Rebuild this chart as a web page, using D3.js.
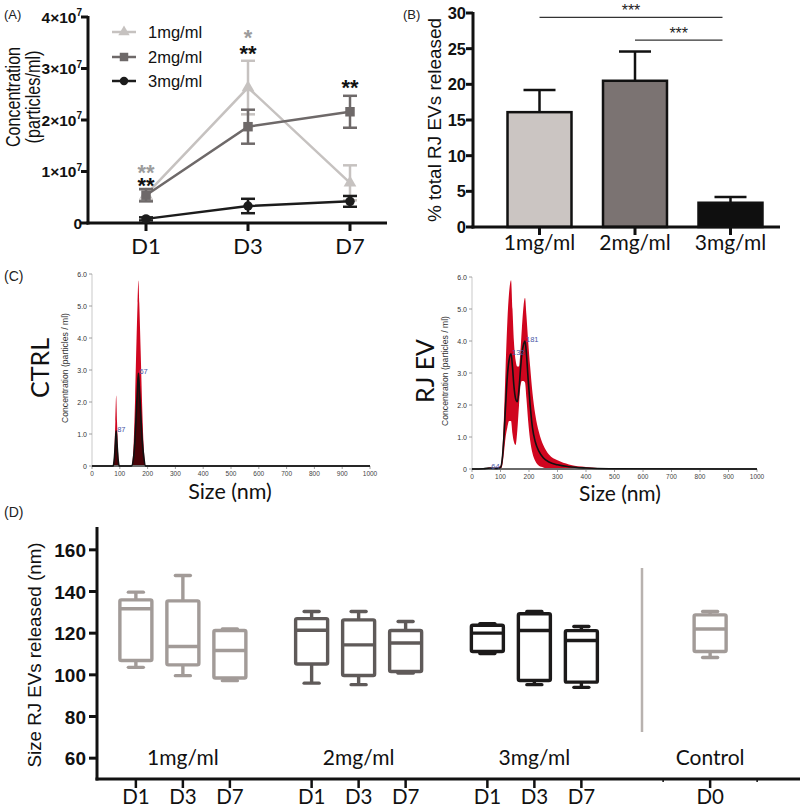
<!DOCTYPE html>
<html><head><meta charset="utf-8">
<script src="https://cdn.jsdelivr.net/npm/d3@7"></script>
<style>body{margin:0;background:#fff}svg{display:block}</style>
</head><body>
<svg id="fig" width="800" height="809"></svg>
<script>
// ---------- DATA ----------
// Panel A
const timepoints = ["D1", "D3", "D7"];
const concSeries = ["1mg/ml", "2mg/ml", "3mg/ml"];
const conc1mg = [5.5e6, 2.63e7, 7.8e6];
const conc1mgErr = [1.0e6, 5.2e6, 3.4e6];
const conc2mg = [5.4e6, 1.87e7, 2.16e7];
const conc2mgErr = [1.2e6, 3.3e6, 3.1e6];
const conc3mg = [0.8e6, 3.3e6, 4.2e6];
const conc3mgErr = [0.3e6, 1.4e6, 1.05e6];
const concTicks = [0, 1e7, 2e7, 3e7, 4e7];
// significance marks: one text per mark, v = baseline in data units
const concStars = [
  {t: "D1", text: "**", c: "grey", v: 0.83e7},
  {t: "D1", text: "**", c: "black", v: 0.575e7},
  {t: "D3", text: "*", c: "grey", v: 3.455e7},
  {t: "D3", text: "**", c: "black", v: 3.145e7},
  {t: "D7", text: "**", c: "black", v: 2.49e7}
];
// Panel B
const doses = ["1mg/ml", "2mg/ml", "3mg/ml"];
const pctReleased = [16.1, 20.5, 3.4];
const pctErr = [3.1, 4.1, 0.8];
const pctTicks = [0, 5, 10, 15, 20, 25, 30];
const pctSig = [
  {from: "1mg/ml", to: "3mg/ml", v: 29.4, text: "***"},
  {from: "2mg/ml", to: "3mg/ml", v: 26.2, text: "***"}
];
// Panel C (NTA size distributions)
const sizeTicks = [0, 100, 200, 300, 400, 500, 600, 700, 800, 900, 1000];
const ntaTicks = [0, 1, 2, 3, 4, 5, 6];
const ctrlSize = [0, 76, 80, 84, 87, 90, 94, 98, 142, 150, 155, 160, 164, 167, 170, 175, 180, 186, 193, 1000];
const ctrlMean = [0, 0, 0.2, 0.7, 1.1, 0.7, 0.2, 0, 0, 0.3, 0.9, 1.8, 2.5, 2.9, 2.5, 1.7, 0.9, 0.3, 0, 0];
const ctrlHigh = [0, 0, 0.4, 1.4, 2.2, 1.4, 0.4, 0, 0, 0.7, 2.1, 3.9, 5.1, 5.8, 5.1, 3.6, 2.0, 0.6, 0, 0];
const ctrlPeaks = [{s: 87, v: 1.1, label: "87"}, {s: 167, v: 2.9, label: "67"}];
const rjSize = [0, 40, 64, 85, 100, 106, 112, 118, 124, 130, 137, 142, 147, 153, 159, 165, 170, 175, 181, 186, 191, 197, 204, 212, 222, 235, 250, 270, 300, 340, 400, 480, 1000];
const rjMean = [0, 0.01, 0.03, 0.02, 0.05, 0.3, 1.0, 2.0, 2.9, 3.4, 3.6, 3.2, 2.6, 2.2, 2.1, 2.5, 3.1, 3.6, 3.9, 4.0, 3.6, 2.8, 2.0, 1.3, 0.85, 0.55, 0.35, 0.22, 0.13, 0.07, 0.03, 0.01, 0];
const rjLow = [0, 0, 0.01, 0, 0, 0.1, 0.5, 1.0, 1.3, 1.5, 1.5, 1.1, 0.85, 0.75, 1.2, 2.0, 2.6, 2.75, 2.75, 2.7, 2.2, 1.5, 0.9, 0.5, 0.25, 0.1, 0.05, 0, 0, 0, 0, 0, 0];
const rjHigh = [0, 0.02, 0.05, 0.04, 0.1, 0.5, 1.6, 3.2, 4.6, 5.5, 5.9, 5.0, 4.0, 3.4, 3.2, 3.2, 3.7, 4.4, 5.1, 5.35, 4.8, 4.0, 3.2, 2.4, 1.7, 1.15, 0.75, 0.45, 0.27, 0.14, 0.06, 0.02, 0];
const rjPeaks = [{s: 64, v: 0.03, label: "64"}, {s: 137, v: 3.6, label: "132"}, {s: 186, v: 4.0, label: "181"}];
// Panel D (box plots: min, q1, median, q3, max)
const boxGroups = ["1mg/ml", "2mg/ml", "3mg/ml", "Control"];
const boxDays = [["D1", "D3", "D7"], ["D1", "D3", "D7"], ["D1", "D3", "D7"], ["", "D0", ""]];
const box1mg = [[103.6, 106.9, 131.7, 136.0, 139.7], [99.6, 104.8, 113.6, 135.5, 147.7], [97.2, 98.5, 111.7, 121.3, 122.0]];
const box2mg = [[96.0, 105.2, 121.4, 127.0, 130.4], [95.3, 99.7, 114.4, 126.4, 130.4], [100.8, 101.6, 115.3, 121.3, 125.6]];
const box3mg = [[110.2, 111.2, 120.0, 123.8, 124.6], [95.3, 97.3, 121.3, 129.3, 130.4], [94.0, 96.5, 116.5, 121.2, 123.2]];
const boxCtrl = [[108.3, 111.2, 122.0, 128.8, 130.4]];
const sizeBoxTicks = [60, 80, 100, 120, 140, 160];

// ---------- DRAW ----------
const svg = d3.select("#fig");
const ARIAL = "'Liberation Sans', Arial, sans-serif";
const AVENIR = "Lato, 'Open Sans', sans-serif";

function panelLabel(t, x, y, fs) {
  svg.append("text").attr("x", x).attr("y", y).attr("font-family", ARIAL)
    .attr("font-size", fs).attr("fill", "#222").text(t);
}
function rotLabel(t, x, y, fs, len, fam, weight) {
  svg.append("text").attr("transform", `translate(${x},${y}) rotate(-90)`)
    .attr("text-anchor", "middle").attr("font-family", fam || ARIAL)
    .attr("font-size", fs).attr("font-weight", weight || "normal")
    .attr("textLength", len).attr("lengthAdjust", "spacingAndGlyphs")
    .attr("fill", "#111").text(t);
}

// ===== Panel A =====
{
  const colors = ["#c6c2c0", "#6e6969", "#1c1c1c"];
  const vals = [conc1mg, conc2mg, conc3mg];
  const errs = [conc1mgErr, conc2mgErr, conc3mgErr];
  const symbols = [d3.symbolTriangle, d3.symbolSquare, d3.symbolCircle];
  const symSizes = [70, 90, 70];
  const x = d3.scalePoint().domain(timepoints).range([146, 350]);
  const y = d3.scaleLinear().domain([0, 4e7]).range([223, 17]);
  const g = svg.append("g");
  // axes
  g.append("line").attr("x1", 88).attr("x2", 88).attr("y1", 16).attr("y2", 224.5).attr("stroke", "#111").attr("stroke-width", 3);
  g.append("line").attr("x1", 86.5).attr("x2", 387).attr("y1", 223).attr("y2", 223).attr("stroke", "#111").attr("stroke-width", 3);
  concTicks.forEach(t => {
    g.append("line").attr("x1", 81).attr("x2", 88).attr("y1", y(t)).attr("y2", y(t)).attr("stroke", "#111").attr("stroke-width", 3);
    const tx = g.append("text").attr("x", 82).attr("y", y(t) + 5.5).attr("text-anchor", "end")
      .attr("font-family", ARIAL).attr("font-weight", "bold").attr("font-size", 15.5).attr("fill", "#111");
    if (t === 0) tx.text("0");
    else {
      tx.append("tspan").text((t / 1e7) + "×10");
      tx.append("tspan").attr("font-size", 10).attr("dy", -6.5).text("7");
    }
  });
  timepoints.forEach(t => {
    g.append("line").attr("x1", x(t)).attr("x2", x(t)).attr("y1", 223).attr("y2", 231).attr("stroke", "#111").attr("stroke-width", 3);
    g.append("text").attr("x", x(t)).attr("y", 254).attr("text-anchor", "middle").attr("font-family", AVENIR)
      .attr("font-size", 22).attr("fill", "#111").text(t);
  });
  rotLabel("Concentration", 20, 97, 21, 100);
  rotLabel("(particles/ml)", 40, 97, 20, 93);
  // series
  vals.forEach((vs, si) => {
    const line = d3.line().x((d, i) => x(timepoints[i])).y(d => y(d));
    g.append("path").attr("d", line(vs)).attr("fill", "none").attr("stroke", colors[si]).attr("stroke-width", 2.5);
    vs.forEach((v, i) => {
      const cx = x(timepoints[i]), e = errs[si][i];
      g.append("line").attr("x1", cx).attr("x2", cx).attr("y1", y(v + e)).attr("y2", y(v - e)).attr("stroke", colors[si]).attr("stroke-width", 2.5);
      [v + e, v - e].forEach(b => g.append("line").attr("x1", cx - 7).attr("x2", cx + 7).attr("y1", y(b)).attr("y2", y(b)).attr("stroke", colors[si]).attr("stroke-width", 2.5));
    });
    vs.forEach((v, i) => {
      g.append("path").attr("d", d3.symbol(symbols[si], symSizes[si])())
        .attr("transform", `translate(${x(timepoints[i])},${y(v)})`).attr("fill", colors[si]);
    });
  });
  // legend
  concSeries.forEach((s, si) => {
    const ly = [32, 57, 81][si];
    g.append("line").attr("x1", 112).attr("x2", 136).attr("y1", ly).attr("y2", ly).attr("stroke", colors[si]).attr("stroke-width", 2.5);
    g.append("path").attr("d", d3.symbol(symbols[si], symSizes[si] * 0.8)()).attr("transform", `translate(124,${ly})`).attr("fill", colors[si]);
    g.append("text").attr("x", 148).attr("y", ly + 6).attr("font-family", ARIAL).attr("font-size", 16.5).attr("fill", "#111").text(s);
  });
  // significance stars
  concStars.forEach(s => {
    g.append("text").attr("x", x(s.t)).attr("y", y(s.v)).attr("text-anchor", "middle")
      .attr("font-family", ARIAL).attr("font-weight", "bold").attr("font-size", 11.5)
      .attr("transform", `translate(${x(s.t)},${y(s.v)}) scale(1.9) translate(${-x(s.t)},${-y(s.v)})`)
      .attr("fill", s.c === "grey" ? "#9c9c9c" : "#111").text(s.text);
  });
  panelLabel("(A)", 4, 19, 13);
}

// ===== Panel B =====
{
  const colors = ["#cbc5c2", "#7b7372", "#0f0f0f"];
  const x = d3.scaleBand().domain(doses).range([476, 794]).padding(0.33);
  const y = d3.scaleLinear().domain([0, 30]).range([227, 13]);
  const g = svg.append("g");
  doses.forEach((d, i) => {
    const cx = x(d) + x.bandwidth() / 2;
    const top = y(pctReleased[i] + pctErr[i]);
    g.append("line").attr("x1", cx).attr("x2", cx).attr("y1", top).attr("y2", y(pctReleased[i])).attr("stroke", "#111").attr("stroke-width", 2.5);
    g.append("line").attr("x1", cx - 16).attr("x2", cx + 16).attr("y1", top).attr("y2", top).attr("stroke", "#111").attr("stroke-width", 2.5);
    g.append("rect").attr("x", x(d)).attr("y", y(pctReleased[i])).attr("width", x.bandwidth())
      .attr("height", y(0) - y(pctReleased[i])).attr("fill", colors[i]).attr("stroke", "#111").attr("stroke-width", 2.5);
  });
  g.append("line").attr("x1", 473).attr("x2", 473).attr("y1", 12).attr("y2", 228.5).attr("stroke", "#111").attr("stroke-width", 3);
  g.append("line").attr("x1", 471.5).attr("x2", 780).attr("y1", 227).attr("y2", 227).attr("stroke", "#111").attr("stroke-width", 3);
  pctTicks.forEach(t => {
    g.append("line").attr("x1", 466).attr("x2", 473).attr("y1", y(t)).attr("y2", y(t)).attr("stroke", "#111").attr("stroke-width", 3);
    g.append("text").attr("x", 466).attr("y", y(t) + 6).attr("text-anchor", "end").attr("font-family", ARIAL)
      .attr("font-weight", "bold").attr("font-size", 16.5).attr("fill", "#111").text(t);
  });
  doses.forEach(d => {
    const cx = x(d) + x.bandwidth() / 2;
    g.append("line").attr("x1", cx).attr("x2", cx).attr("y1", 227).attr("y2", 235).attr("stroke", "#111").attr("stroke-width", 3);
    g.append("text").attr("x", cx).attr("y", 250).attr("text-anchor", "middle").attr("font-family", AVENIR)
      .attr("font-size", 21).attr("fill", "#111").text(d);
  });
  rotLabel("% total RJ EVs released", 441, 120, 19, 204);
  pctSig.forEach(s => {
    const x1 = x(s.from) + x.bandwidth() / 2, x2 = x(s.to) - 8 + x.bandwidth() / 2;
    g.append("line").attr("x1", x1).attr("x2", x2).attr("y1", y(s.v)).attr("y2", y(s.v)).attr("stroke", "#333").attr("stroke-width", 1.3);
    g.append("text").attr("x", (x1 + x2) / 2).attr("y", y(s.v) - 1.5).attr("text-anchor", "middle")
      .attr("font-family", ARIAL).attr("font-size", 16).attr("fill", "#222").text(s.text);
  });
  panelLabel("(B)", 403, 19, 13);
}

// ===== Panel C =====
function ntaPanel(x0, x1, yBase, yTop, sizes, mean, low, high, peaks, darkFill, title, titleX, sizeLabX, sizeLabY, sizeLabFs) {
  const x = d3.scaleLinear().domain([0, 1000]).range([x0, x1]);
  const y = d3.scaleLinear().domain([0, 6]).range([yBase, yTop]);
  const g = svg.append("g");
  const pts = sizes.map((s, i) => ({s, m: mean[i], lo: low ? low[i] : 0, hi: high[i]}));
  g.append("line").attr("x1", x0).attr("x2", x0).attr("y1", yTop).attr("y2", yBase).attr("stroke", "#bbb").attr("stroke-width", 0.8);
  ntaTicks.forEach(t => {
    g.append("line").attr("x1", x0 - 3).attr("x2", x0).attr("y1", y(t)).attr("y2", y(t)).attr("stroke", "#888").attr("stroke-width", 0.8);
    g.append("text").attr("x", x0 - 5).attr("y", y(t) + 2.5).attr("text-anchor", "end").attr("font-family", ARIAL)
      .attr("font-size", 7).attr("fill", "#333").text(t === 0 ? "0" : t.toFixed(1));
  });
  sizeTicks.forEach(t => {
    g.append("line").attr("x1", x(t)).attr("x2", x(t)).attr("y1", yBase).attr("y2", yBase + 3).attr("stroke", "#888").attr("stroke-width", 0.8);
    g.append("text").attr("x", x(t)).attr("y", yBase + 10).attr("text-anchor", "middle").attr("font-family", ARIAL)
      .attr("font-size", 6.5).attr("fill", "#444").text(t);
  });
  const band = d3.area().x(d => x(d.s)).y0(d => y(d.lo)).y1(d => y(d.hi)).curve(d3.curveMonotoneX);
  g.append("path").attr("d", band(pts)).attr("fill", "#d0061f");
  if (darkFill) {
    const under = d3.area().x(d => x(d.s)).y0(y(0)).y1(d => y(d.m)).curve(d3.curveMonotoneX);
    g.append("path").attr("d", under(pts)).attr("fill", "#3a0306").attr("opacity", 0.9);
  }
  g.append("line").attr("x1", x0).attr("x2", x1).attr("y1", yBase).attr("y2", yBase).attr("stroke", "#6a6a6a").attr("stroke-width", 2);
  const ln = d3.line().x(d => x(d.s)).y(d => y(d.m)).curve(d3.curveMonotoneX);
  g.append("path").attr("d", ln(pts)).attr("fill", "none").attr("stroke", "#111").attr("stroke-width", 1.6);
  peaks.forEach(p => {
    g.append("text").attr("x", x(p.s) + 1).attr("y", y(p.v) + 1).attr("font-family", ARIAL).attr("font-size", 7.5)
      .attr("fill", "#4a58a6").text(p.label);
  });
  svg.append("text").attr("transform", `translate(${x0 - 24},${(yTop + yBase) / 2 - 2}) rotate(-90)`)
    .attr("text-anchor", "middle").attr("font-family", ARIAL).attr("font-size", 8.6).attr("fill", "#333")
    .text("Concentration (particles / ml)");
  svg.append("text").attr("x", sizeLabX).attr("y", sizeLabY).attr("text-anchor", "middle")
    .attr("font-family", AVENIR).attr("font-size", sizeLabFs).attr("fill", "#111").text("Size (nm)");
  svg.append("text").attr("transform", `translate(${titleX},${(yTop + yBase) / 2 - 2}) rotate(-90)`)
    .attr("text-anchor", "middle").attr("font-family", AVENIR).attr("font-size", 25).attr("fill", "#111").text(title);
}
ntaPanel(92, 370, 466, 274, ctrlSize, ctrlMean, null, ctrlHigh, ctrlPeaks, true, "CTRL", 49, 230, 499, 21.5);
ntaPanel(472, 757, 469, 277, rjSize, rjMean, rjLow, rjHigh, rjPeaks, false, "RJ EV", 434, 620, 501, 21);
panelLabel("(C)", 4, 281, 14);

// ===== Panel D =====
{
  const colors = ["#a29b98", "#5f5a59", "#1c1a1a", "#a29b98"];
  const data = [box1mg, box2mg, box3mg, boxCtrl];
  const gx = d3.scaleBand().domain(boxGroups).range([95, 798]);
  const y = d3.scaleLinear().domain([50, 170]).range([779, 529]);
  const g = svg.append("g");
  // separator
  g.append("line").attr("x1", 642).attr("x2", 642).attr("y1", 568).attr("y2", 732).attr("stroke", "#b8b2af").attr("stroke-width", 2.5);
  boxGroups.forEach((grp, gi) => {
    const ix = d3.scalePoint().domain([0, 1, 2]).range([-47, 47]);
    const center = gx(grp) + gx.bandwidth() / 2;
    const dayIdx = grp === "Control" ? [1] : [0, 1, 2];
    data[gi].forEach((st, k) => {
      const cx = center + ix(dayIdx[k]);
      const [mn, q1, md, q3, mx] = st;
      const c = colors[gi], w = 16, cw = 7.5, sw = 3.4;
      g.append("line").attr("x1", cx).attr("x2", cx).attr("y1", y(mx)).attr("y2", y(q3)).attr("stroke", c).attr("stroke-width", sw);
      g.append("line").attr("x1", cx).attr("x2", cx).attr("y1", y(q1)).attr("y2", y(mn)).attr("stroke", c).attr("stroke-width", sw);
      [mx, mn].forEach(v => g.append("line").attr("x1", cx - cw).attr("x2", cx + cw).attr("y1", y(v)).attr("y2", y(v))
        .attr("stroke", c).attr("stroke-width", sw).attr("stroke-linecap", "round"));
      g.append("rect").attr("x", cx - w).attr("y", y(q3)).attr("width", 2 * w).attr("height", y(q1) - y(q3))
        .attr("fill", "none").attr("stroke", c).attr("stroke-width", sw).attr("rx", 1.5);
      g.append("line").attr("x1", cx - w).attr("x2", cx + w).attr("y1", y(md)).attr("y2", y(md)).attr("stroke", c).attr("stroke-width", sw);
    });
    // ticks + labels
    boxDays[gi].forEach((d, k) => {
      const tx = center + ix(k);
      g.append("line").attr("x1", tx).attr("x2", tx).attr("y1", 779).attr("y2", d ? 788 : 782).attr("stroke", "#111").attr("stroke-width", d ? 2.5 : 1.5);
      if (d) g.append("text").attr("x", tx).attr("y", 804).attr("text-anchor", "middle").attr("font-family", AVENIR)
        .attr("font-size", 20.5).attr("fill", "#111").text(d);
    });
    g.append("text").attr("x", center).attr("y", 765).attr("text-anchor", "middle").attr("font-family", AVENIR)
      .attr("font-size", 21).attr("fill", "#111").text(grp);
  });
  g.append("line").attr("x1", 97).attr("x2", 97).attr("y1", 527).attr("y2", 780.5).attr("stroke", "#111").attr("stroke-width", 3);
  g.append("line").attr("x1", 95.5).attr("x2", 800).attr("y1", 779).attr("y2", 779).attr("stroke", "#111").attr("stroke-width", 3);
  sizeBoxTicks.forEach(t => {
    g.append("line").attr("x1", 89).attr("x2", 97).attr("y1", y(t)).attr("y2", y(t)).attr("stroke", "#111").attr("stroke-width", 3);
    g.append("text").attr("x", 86).attr("y", y(t) + 7).attr("text-anchor", "end").attr("font-family", ARIAL)
      .attr("font-weight", "bold").attr("font-size", 19).attr("fill", "#111").text(t);
  });
  rotLabel("Size RJ EVs released (nm)", 41, 655, 18, 225);
  panelLabel("(D)", 4, 517, 14);
}
</script>
</body></html>
